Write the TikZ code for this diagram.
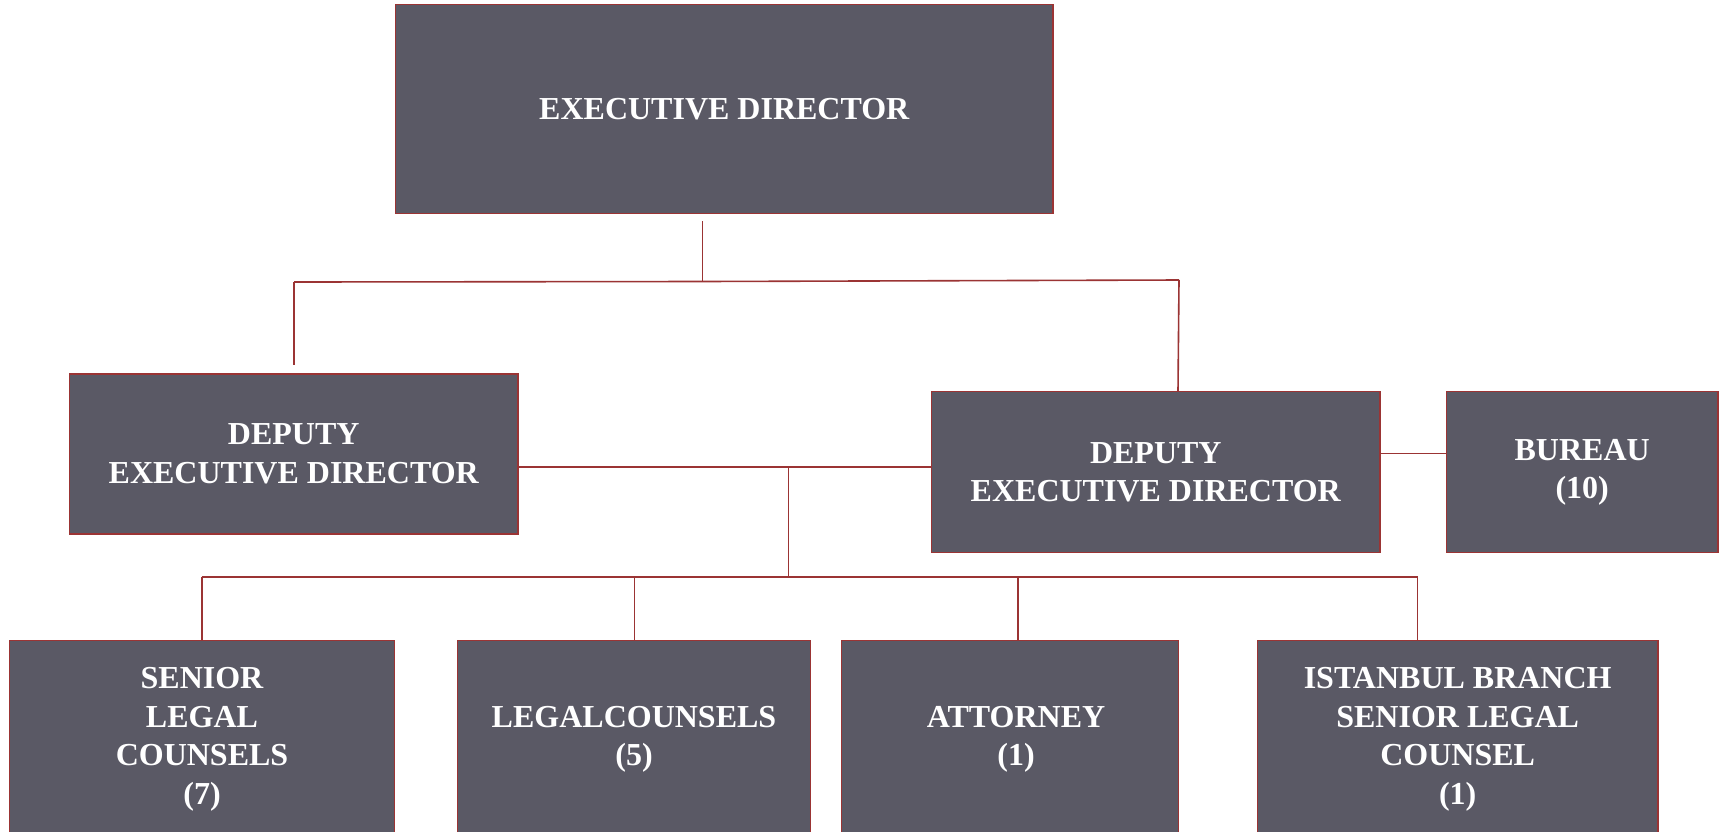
\documentclass[tikz,border=0pt]{standalone}
\usepackage{fontspec}
\setmainfont{Liberation Serif}
\definecolor{boxfill}{RGB}{90,89,101}
\definecolor{linered}{RGB}{155,52,52}
\tikzset{
  orgbox/.style={rectangle, draw=linered, line width=1.5pt, fill=boxfill, text=white,
    font=\fontsize{32}{38.5}\selectfont\bfseries, align=center, inner sep=0pt},
  conn/.style={draw=linered, line width=1.6pt}
}
\begin{document}
\begin{tikzpicture}[x=1pt,y=-1pt]
\useasboundingbox (0,0) rectangle (1727,831);
\fill[white] (0,0) rectangle (1727,831);
% boxes
\node[orgbox, minimum width=657.4pt, minimum height=209pt] (ed) at (724.3,108.8) {EXECUTIVE DIRECTOR};
\node[orgbox, minimum width=448.9pt, minimum height=160pt] (dedl) at (293.75,454) {DEPUTY\\EXECUTIVE DIRECTOR};
\node[orgbox, minimum width=448.4pt, minimum height=161pt] (dedr) at (1155.8,472.2) {DEPUTY\\EXECUTIVE DIRECTOR};
\node[orgbox, minimum width=271.6pt, minimum height=161pt] (bureau) at (1582.2,472.2) {BUREAU\\(10)};
\node[orgbox, minimum width=384.7pt, minimum height=197.5pt] (slc) at (202,739.2) {SENIOR\\LEGAL\\COUNSELS\\(7)};
\node[orgbox, minimum width=353pt, minimum height=197.5pt] (lc) at (634,739.2) {LEGALCOUNSELS\\(5)};
\node[orgbox, minimum width=337pt, minimum height=197.5pt] (att) at (1010,739.2) {\hspace*{12pt}ATTORNEY\\\hspace*{12pt}(1)};
\node[orgbox, minimum width=400.5pt, minimum height=197.5pt] (ist) at (1457.7,739.2) {ISTANBUL BRANCH\\SENIOR LEGAL\\COUNSEL\\(1)};
% junction coordinates
\coordinate (edtop) at (702.5,221);
\coordinate (edj) at (702.5,281.5);
\coordinate (lt) at (294,282);
\coordinate (ltend) at (294,365);
\coordinate (rt) at (1179,280);
\coordinate (mid) at (788.6,467);
\coordinate (midlow) at (788.6,577);
\coordinate (bl) at (201.7,577);
\coordinate (br) at (1417.5,577);
\coordinate (bur) at (0,453.3);
% connectors
\draw[conn] (edtop) -- (edj);
\draw[conn] (lt) -- (edj) -- (rt);
\draw[conn] (lt) -- (ltend);
\draw[conn] (rt) -- ([xshift=-1pt]dedr.north -| rt);
\draw[conn] (dedl.east |- mid) -- (dedr.west |- mid);
\draw[conn] (dedr.east |- bur) -- (bureau.west |- bur);
\draw[conn] (mid) -- (midlow);
\draw[conn] (bl) -- (br);
\draw[conn] (bl) -- (slc.north -| bl);
\draw[conn] (634.4,577) -- (lc.north -| 634.4,0);
\draw[conn] (1018,577) -- (att.north -| 1018,0);
\draw[conn] (br) -- (ist.north -| br);
\end{tikzpicture}
\end{document}
